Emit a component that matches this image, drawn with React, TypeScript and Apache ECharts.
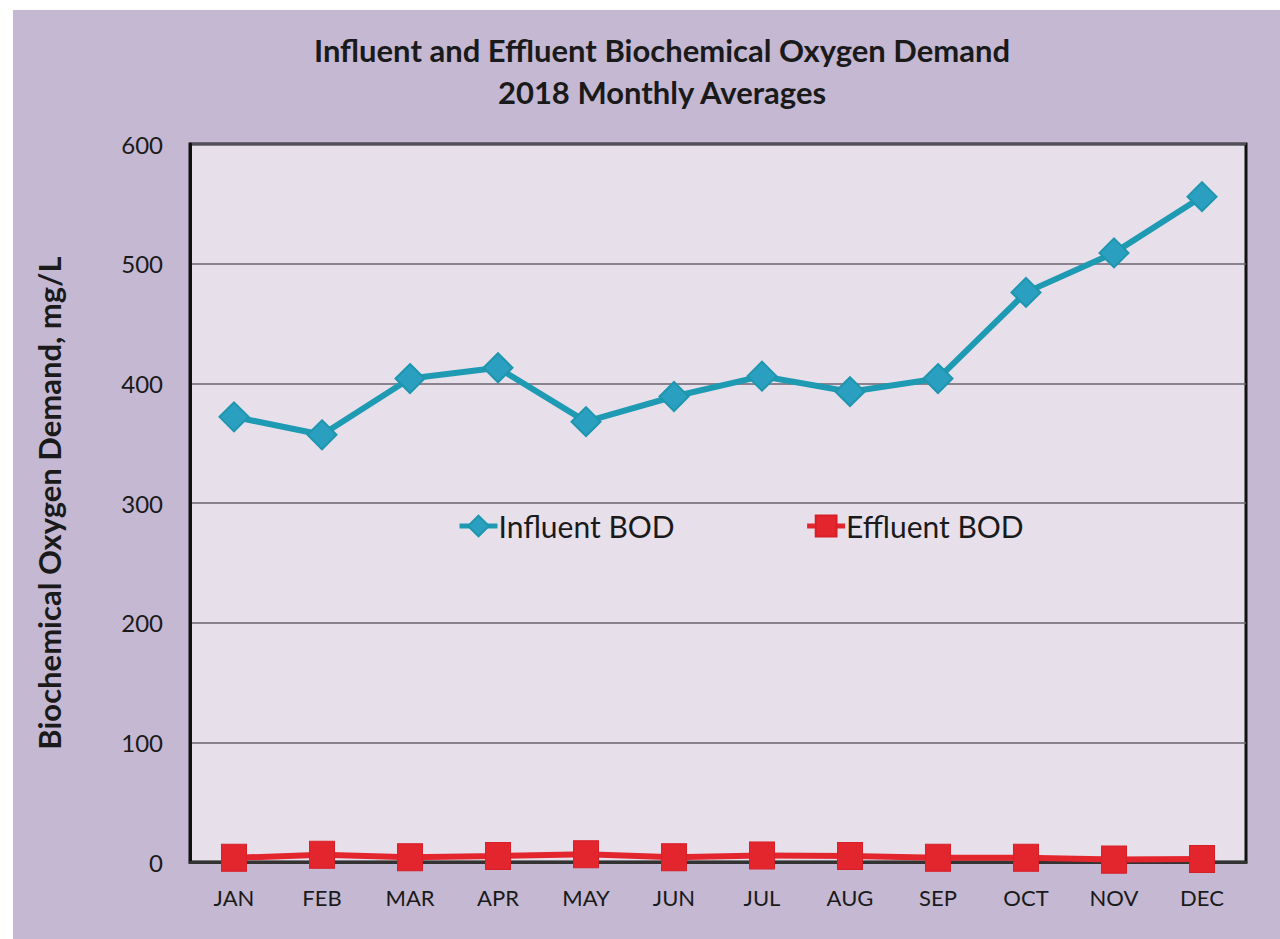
import React, { useEffect, useRef } from "react";
import * as echarts from "echarts";

const months = ["JAN", "FEB", "MAR", "APR", "MAY", "JUN", "JUL", "AUG", "SEP", "OCT", "NOV", "DEC"];
const influentBOD = [372, 357, 404, 413, 368, 389, 406, 393, 404, 476, 509, 556];
const effluentBOD = [3.5, 6, 4, 5, 6.5, 4, 5.5, 5, 3.5, 3.5, 2, 2.5];
const yTicks = { min: 0, max: 600, interval: 100 };

const FONT = "Lato, 'Open Sans', sans-serif";

export default function App() {
  const ref = useRef<HTMLDivElement>(null);
  useEffect(() => {
    if (!ref.current) return;
    const chart = echarts.init(ref.current, undefined, { renderer: "svg" });
    chart.setOption({
      animation: false,
      backgroundColor: "#ffffff",
      graphic: [
        {
          type: "rect",
          z: -10,
          silent: true,
          shape: { x: 13, y: 10, width: 1280, height: 940 },
          style: { fill: "#c4b8d2" },
        },
      ],
      title: {
        text: "Influent and Effluent Biochemical Oxygen Demand\n2018 Monthly Averages",
        left: 657,
        textAlign: "center",
        top: 24,
        textStyle: {
          fontFamily: FONT,
          fontWeight: "bold",
          fontSize: 31,
          lineHeight: 42,
          color: "#1a1a1a",
        },
      },
      legend: {
        left: 452,
        top: 506,
        itemWidth: 38,
        itemHeight: 26,
        itemGap: 130,
        lineStyle: { width: 5 },
        textStyle: { fontFamily: FONT, fontSize: 30, color: "#1a1a1a", padding: [0, 0, 0, -4] },
        data: ["Influent BOD", "Effluent BOD"],
      },
      grid: {
        left: 190,
        top: 144,
        width: 1056,
        height: 718,
        show: true,
        backgroundColor: "#e7e0eb",
        borderColor: "#111111",
        borderWidth: 3,
      },
      xAxis: {
        type: "category",
        data: months,
        boundaryGap: true,
        axisLine: { lineStyle: { color: "#333333", width: 3 } },
        axisTick: { show: false },
        axisLabel: { fontFamily: FONT, fontSize: 22, color: "#1a1a1a", margin: 24 },
      },
      yAxis: {
        type: "value",
        min: yTicks.min,
        max: yTicks.max,
        interval: yTicks.interval,
        name: "Biochemical Oxygen Demand, mg/L",
        nameLocation: "middle",
        nameGap: 126,
        nameTextStyle: { fontFamily: FONT, fontWeight: "bold", fontSize: 31, color: "#1a1a1a" },
        axisLine: { show: true, lineStyle: { color: "#111111", width: 3 } },
        axisTick: { show: false },
        axisLabel: { fontFamily: FONT, fontSize: 24, color: "#1a1a1a", margin: 27 },
        splitLine: { lineStyle: { color: "#6a6470", width: 1.5 } },
      },
      series: [
        {
          name: "Influent BOD",
          type: "line",
          data: influentBOD,
          symbol: "diamond",
          symbolSize: 29,
          lineStyle: { color: "#1e9ab3", width: 6 },
          itemStyle: { color: "#2a9fc0", borderColor: "#1e96ae", borderWidth: 2 },
        },
        {
          name: "Effluent BOD",
          type: "line",
          data: effluentBOD,
          symbol: "rect",
          symbolSize: [25, 27],
          lineStyle: { color: "#e3262e", width: 6 },
          itemStyle: { color: "#e3262e", borderColor: "#d81e27", borderWidth: 1 },
          z: 3,
        },
      ],
    });
    return () => chart.dispose();
  }, []);
  return (
    <div
      ref={ref}
      style={{ position: "fixed", left: 0, top: 0, width: 1280, height: 939 }}
    />
  );
}
